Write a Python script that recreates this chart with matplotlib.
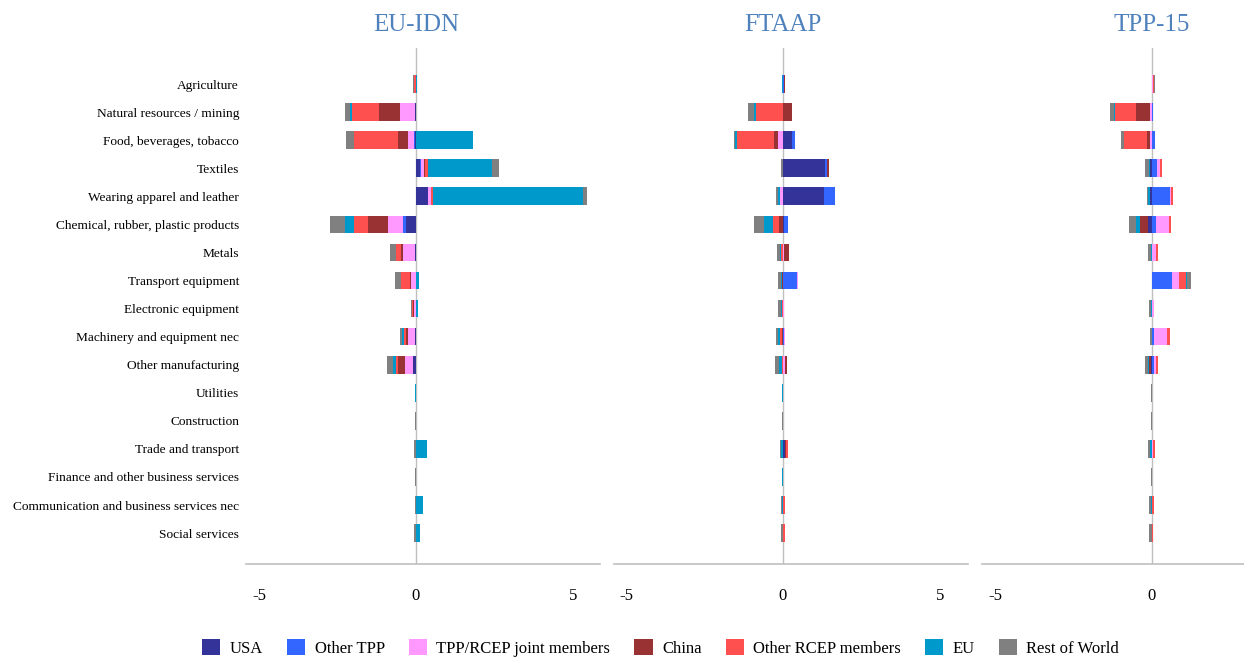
import matplotlib
matplotlib.use("Agg")
import matplotlib.pyplot as plt
from matplotlib.patches import Patch
import numpy as np

plt.rcParams['font.family'] = ['Liberation Serif', 'DejaVu Serif']

categories = ["Agriculture", "Natural resources / mining", "Food, beverages, tobacco",
              "Textiles", "Wearing apparel and leather", "Chemical, rubber, plastic products",
              "Metals", "Transport equipment", "Electronic equipment",
              "Machinery and equipment nec", "Other manufacturing", "Utilities",
              "Construction", "Trade and transport", "Finance and other business services",
              "Communication and business services nec", "Social services"]

series_names = ["USA", "Other TPP", "TPP/RCEP joint members", "China",
                "Other RCEP members", "EU", "Rest of World"]
series_colors = ["#333399", "#3366FF", "#FF99FF", "#993333", "#FF5050", "#0099CC", "#808080"]

scenarios = ["EU-IDN", "FTAAP", "TPP-15"]

# EU-IDN
euidn_usa = [0, -0.02, -0.02, 0.13, 0.37, -0.33, -0.02, 0, 0, -0.04, -0.09, 0, 0, 0, 0, 0, 0]
euidn_othertpp = [0, 0, -0.04, 0.02, 0, -0.07, 0, 0.01, 0, 0, 0, 0, 0, 0, 0, 0, 0]
euidn_joint = [0, -0.48, -0.18, 0.1, 0.1, -0.48, -0.4, -0.17, -0.05, -0.22, -0.27, 0, 0, 0, 0, 0, 0]
euidn_china = [-0.01, -0.67, -0.32, 0.03, 0.02, -0.64, -0.06, -0.02, -0.03, -0.05, -0.2, 0, 0, 0, 0, 0, 0]
euidn_otherrcep = [-0.05, -0.87, -1.42, 0.1, 0.06, -0.46, -0.17, -0.28, -0.03, -0.06, -0.08, 0, 0, 0, 0, 0, 0]
euidn_eu = [0.03, -0.05, 1.83, 2.03, 4.78, -0.27, 0, 0.08, 0.07, -0.07, -0.08, -0.02, 0, 0.34, 0, 0.22, 0.12]
euidn_row = [-0.03, -0.16, -0.25, 0.22, 0.11, -0.5, -0.16, -0.21, -0.05, -0.07, -0.21, -0.01, -0.03, -0.05, -0.03, -0.03, -0.05]

# FTAAP
ftaap_usa = [0, 0, 0.29, 1.34, 1.32, 0.02, 0, 0, 0, 0, 0, 0, 0, 0.05, 0, 0, 0]
ftaap_othertpp = [0.02, 0, 0.08, 0.05, 0.32, 0.14, 0, 0.45, 0.01, 0.03, 0.01, 0, 0, 0.02, 0, 0, 0]
ftaap_joint = [0, 0, -0.16, 0, -0.1, 0, 0.02, 0.03, 0.02, 0.04, 0.04, 0, 0, 0, 0, 0, 0]
ftaap_china = [0.05, 0.28, -0.14, 0.07, 0, -0.12, 0.17, -0.02, -0.01, -0.02, 0.08, 0, 0, 0.01, 0, 0, 0]
ftaap_otherrcep = [0, -0.86, -1.17, 0, 0, -0.21, -0.06, 0, -0.02, -0.06, -0.04, 0, 0, 0.07, 0, 0.07, 0.05]
ftaap_eu = [-0.02, -0.06, -0.05, 0, -0.07, -0.28, -0.02, -0.04, -0.02, -0.07, -0.08, -0.02, -0.01, -0.06, -0.02, -0.04, -0.01]
ftaap_row = [0, -0.18, -0.03, -0.07, -0.05, -0.31, -0.1, -0.1, -0.1, -0.07, -0.12, -0.01, -0.01, -0.05, -0.01, -0.03, -0.06]

# TPP-15
tpp15_usa = [0, 0, 0, -0.06, -0.06, -0.13, 0, 0, 0, 0, -0.03, 0, 0, 0, 0, 0, 0]
tpp15_othertpp = [0, 0.03, 0.1, 0.16, 0.56, 0.12, 0, 0.63, 0.01, 0.06, 0.06, 0, 0, 0.01, 0, 0, 0]
tpp15_joint = [0.02, -0.06, -0.06, 0.1, 0.05, 0.42, 0.14, 0.22, 0.05, 0.41, 0.06, 0, 0, 0.02, 0, 0, 0]
tpp15_china = [0, -0.44, -0.1, 0, 0, -0.24, 0, 0, 0, 0, -0.06, 0, 0, 0, 0, 0, 0]
tpp15_otherrcep = [0.03, -0.68, -0.73, 0.05, 0.05, 0.08, 0.04, 0.23, 0, 0.1, 0.06, 0, 0, 0.06, 0, 0.07, 0.04]
tpp15_eu = [0, -0.04, 0, -0.03, -0.05, -0.15, -0.02, 0.03, -0.03, 0, -0.03, -0.01, 0, -0.07, -0.01, -0.04, -0.01]
tpp15_row = [0.05, -0.12, -0.11, -0.12, -0.04, -0.21, -0.09, 0.14, -0.07, -0.06, -0.1, -0.02, -0.02, -0.05, -0.02, -0.04, -0.08]

scenario_data = [
    [euidn_usa, euidn_othertpp, euidn_joint, euidn_china, euidn_otherrcep, euidn_eu, euidn_row],
    [ftaap_usa, ftaap_othertpp, ftaap_joint, ftaap_china, ftaap_otherrcep, ftaap_eu, ftaap_row],
    [tpp15_usa, tpp15_othertpp, tpp15_joint, tpp15_china, tpp15_otherrcep, tpp15_eu, tpp15_row],
]

W, H = 1244, 657
fig = plt.figure(figsize=(W / 100, H / 100), dpi=100)

panel_px = [(246, 600), (614, 968), (982, 1244)]
xlims = [(-5.41, 5.86), (-5.38, 5.89), (-5.41, 2.93)]
ytop, ybot = 48, 564
grey = "#BFBFBF"
title_color = "#4F81BD"

y = np.arange(len(categories))
for k, (name, data) in enumerate(zip(scenarios, scenario_data)):
    x0, x1 = panel_px[k]
    ax = fig.add_axes([x0 / W, 1 - ybot / H, (x1 - x0) / W, (ybot - ytop) / H])
    pos = np.zeros(len(categories))
    neg = np.zeros(len(categories))
    for vals, col in zip(data, series_colors):
        v = np.array(vals, dtype=float)
        left = np.where(v >= 0, pos, neg)
        ax.barh(y, v, left=left, height=0.63, color=col, edgecolor='none', zorder=3)
        pos = pos + np.where(v > 0, v, 0)
        neg = neg + np.where(v < 0, v, 0)
    ax.set_xlim(*xlims[k])
    ax.set_ylim(17.1, -1.283)
    ax.axvline(0, color=grey, lw=1.0, zorder=2)
    for s in ['top', 'right', 'left']:
        ax.spines[s].set_visible(False)
    ax.spines['bottom'].set_color(grey)
    ax.spines['bottom'].set_linewidth(1.2)
    ax.set_xticks([-5, 0, 5] if k < 2 else [-5, 0])
    ax.set_xticklabels(["-5", "0", "5"] if k < 2 else ["-5", "0"])
    ax.tick_params(axis='x', length=0, pad=17, labelsize=12, colors='#000000')
    ax.set_yticks(y)
    if k == 0:
        ax.set_yticklabels(categories, fontsize=9.6)
        ax.tick_params(axis='y', length=0, pad=5)
    else:
        ax.set_yticklabels([])
        ax.tick_params(axis='y', length=0)
    zero_px = x0 + (0 - xlims[k][0]) / (xlims[k][1] - xlims[k][0]) * (x1 - x0)
    fig.text(zero_px / W, 1 - 25 / H, name, ha='center', va='center',
             fontsize=18, color=title_color)

handles = [Patch(facecolor=c, edgecolor='none') for c in series_colors]
fig.legend(handles, series_names, loc='center', bbox_to_anchor=(0.531, 1 - 648 / H),
           ncol=7, frameon=False, fontsize=12, handlelength=1.1, handleheight=1.1,
           handletextpad=0.55, columnspacing=1.45, borderpad=0, borderaxespad=0)

fig.savefig("out.png", dpi=100)
